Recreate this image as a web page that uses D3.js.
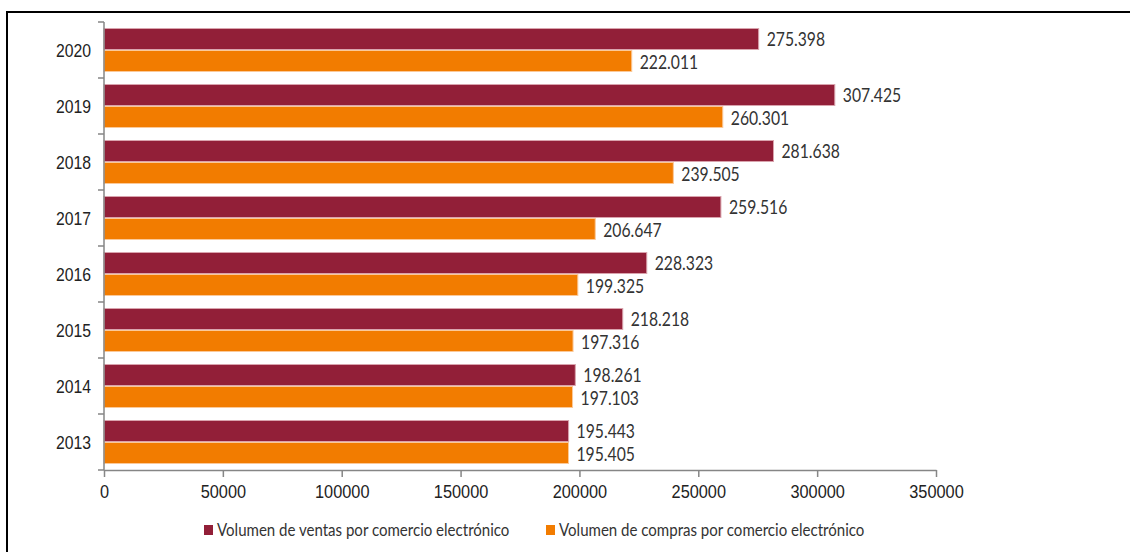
<!DOCTYPE html>
<html>
<head>
<meta charset="utf-8">
<script src="https://cdn.jsdelivr.net/npm/d3@7"></script>
<style>
  html, body { margin: 0; padding: 0; background: #fff; }
  svg { display: block; }
  .arial { font-family: "Liberation Sans", Arial, sans-serif; }
  .humanist { font-family: Lato, "Open Sans", sans-serif; }
</style>
</head>
<body>
<svg id="chart" width="1130" height="552"></svg>
<script>
// Years, top to bottom
const years = ["2020", "2019", "2018", "2017", "2016", "2015", "2014", "2013"];
// Sales and purchases through e-commerce
const ventas  = [275398, 307425, 281638, 259516, 228323, 218218, 198261, 195443];
const compras = [222011, 260301, 239505, 206647, 199325, 197316, 197103, 195405];
const seriesNames = [
  "Volumen de ventas por comercio electrónico",
  "Volumen de compras por comercio electrónico"
];
const xTicks = [0, 50000, 100000, 150000, 200000, 250000, 300000, 350000];

const colors = ["#921F38", "#F27C00"];
const strokes = ["#D9A3AD", "#FBC999"];

const svg = d3.select("#chart");

// outer frame
svg.append("rect")
  .attr("x", 7).attr("y", 12)
  .attr("width", 1300).attr("height", 700)
  .attr("fill", "none").attr("stroke", "#000").attr("stroke-width", 2);

const x = d3.scaleLinear().domain([0, 350000]).range([104, 936]);
const y = d3.scaleBand().domain(years).range([22, 470])
  .paddingInner(12 / 56).paddingOuter(6 / 56);
const ySub = d3.scaleBand().domain([0, 1]).range([0, y.bandwidth()]);

const locale = d3.formatLocale({ decimal: ",", thousands: ".", grouping: [3], currency: ["", "€"] });
const fmt = locale.format(",");

// condensed text: draw at the origin, then move and squeeze horizontally
function narrow(sel, sx) {
  sel.attr("transform", function () {
    const t = d3.select(this);
    const px = +t.attr("data-x"), py = +t.attr("data-y");
    return `translate(${px},${py}) scale(${sx},1)`;
  });
}

const rows = years.map((yr, i) => ({ yr, vals: [ventas[i], compras[i]] }));

const g = svg.append("g");
const groups = g.selectAll("g.year").data(rows).join("g")
  .attr("class", "year")
  .attr("transform", d => `translate(0,${y(d.yr)})`);

groups.selectAll("rect").data(d => d.vals.map((v, s) => ({ v, s }))).join("rect")
  .attr("x", x(0))
  .attr("y", d => ySub(d.s) + 0.5)
  .attr("width", d => x(d.v) - x(0))
  .attr("height", ySub.bandwidth() - 1)
  .attr("fill", d => colors[d.s])
  .attr("stroke", d => strokes[d.s])
  .attr("stroke-width", 1);

groups.selectAll("text.val").data(d => d.vals.map((v, s) => ({ v, s }))).join("text")
  .attr("class", "val humanist")
  .attr("data-x", d => x(d.v) + 8)
  .attr("data-y", d => ySub(d.s) + ySub.bandwidth() / 2 + (d.s === 1 ? 1 : 0))
  .attr("dy", "0.36em")
  .attr("fill", "#333")
  .attr("font-size", 18.5)
  .text(d => fmt(d.v))
  .call(narrow, 0.85);

// y axis: line with ticks at category boundaries
const axisColor = "#868686";
const yAxis = svg.append("g");
yAxis.append("line")
  .attr("x1", x(0)).attr("x2", x(0))
  .attr("y1", 22).attr("y2", 470)
  .attr("stroke", axisColor).attr("stroke-width", 1.5);
const bounds = years.map(yr => y(yr) - y.step() * y.paddingInner() / 2).concat([470]);
yAxis.selectAll("line.tick").data(bounds).join("line")
  .attr("class", "tick")
  .attr("x1", x(0) - 6).attr("x2", x(0))
  .attr("y1", d => d).attr("y2", d => d)
  .attr("stroke", axisColor).attr("stroke-width", 1.5);
yAxis.selectAll("text").data(years).join("text")
  .attr("class", "arial")
  .attr("data-x", 91)
  .attr("data-y", d => y(d) + y.bandwidth() / 2)
  .attr("dy", "0.35em")
  .attr("text-anchor", "end")
  .attr("fill", "#222")
  .attr("font-size", 19)
  .text(d => d)
  .call(narrow, 0.83);

// x axis
const xAxis = svg.append("g").attr("transform", "translate(0,470)")
  .call(d3.axisBottom(x).tickValues(xTicks).tickSize(7).tickSizeOuter(0).tickFormat(d3.format("d")));
xAxis.select(".domain").attr("stroke", axisColor).attr("stroke-width", 1.5);
xAxis.selectAll(".tick line").attr("stroke", axisColor).attr("stroke-width", 1.5);
xAxis.selectAll(".tick text")
  .attr("class", "arial")
  .attr("font-family", null)
  .attr("font-size", 19)
  .attr("fill", "#222")
  .attr("data-x", 0)
  .attr("data-y", 14)
  .attr("y", null)
  .call(narrow, 0.86);

// legend
const legendX = [204, 546];
const legend = svg.append("g").selectAll("g").data(seriesNames).join("g")
  .attr("transform", (d, i) => `translate(${legendX[i]},530)`);
legend.append("rect")
  .attr("x", 0).attr("y", -5).attr("width", 9).attr("height", 10)
  .attr("fill", (d, i) => colors[i]);
legend.append("text")
  .attr("class", "humanist")
  .attr("data-x", 13).attr("data-y", 0)
  .attr("dy", "0.36em")
  .attr("fill", "#333")
  .attr("font-size", 17.3)
  .text(d => d)
  .call(narrow, 0.87);
</script>
</body>
</html>
